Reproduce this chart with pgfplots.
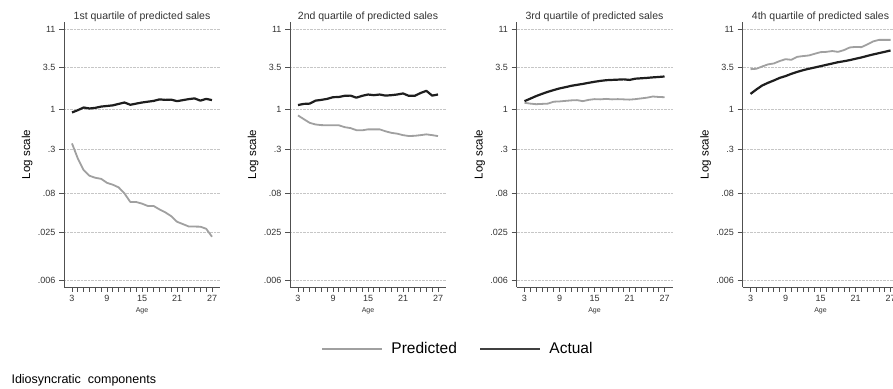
\documentclass[border=0pt]{standalone}
\usepackage{pgfplots}
\usepackage{pgfplotstable}
\pgfplotsset{compat=1.18}
\usepackage{fontspec}
\setmainfont{Liberation Sans}
\definecolor{predgray}{HTML}{A0A0A0}
\definecolor{actblack}{HTML}{1E1E1E}
\definecolor{axgray}{HTML}{505050}
\definecolor{txtgray}{HTML}{333333}

\pgfplotstableread{
x a p
3 0.905 0.358
4 0.97 0.228
5 1.05 0.161
6 1.02 0.136
7 1.04 0.128
8 1.08 0.124
9 1.10 0.110
10 1.12 0.104
11 1.17 0.096
12 1.22 0.080
13 1.14 0.062
14 1.18 0.062
15 1.22 0.059
16 1.25 0.055
17 1.28 0.055
18 1.34 0.0496
19 1.32 0.0454
20 1.33 0.0406
21 1.27 0.0343
22 1.31 0.032
23 1.35 0.0298
24 1.38 0.0297
25 1.29 0.0296
26 1.36 0.0278
27 1.31 0.0219
}\qone
\pgfplotstableread{
x a p
3 1.13 0.828
4 1.17 0.741
5 1.18 0.664
6 1.29 0.632
7 1.32 0.620
8 1.36 0.617
9 1.43 0.617
10 1.44 0.617
11 1.49 0.583
12 1.50 0.567
13 1.41 0.533
14 1.49 0.530
15 1.55 0.546
16 1.52 0.546
17 1.55 0.546
18 1.50 0.515
19 1.52 0.492
20 1.55 0.480
21 1.60 0.459
22 1.49 0.447
23 1.49 0.450
24 1.62 0.459
25 1.73 0.470
26 1.50 0.459
27 1.55 0.446
}\qtwo
\pgfplotstableread{
x a p
3 1.27 1.21
4 1.37 1.18
5 1.48 1.16
6 1.58 1.17
7 1.68 1.18
8 1.77 1.25
9 1.86 1.26
10 1.93 1.28
11 2.01 1.30
12 2.07 1.31
13 2.13 1.27
14 2.20 1.32
15 2.27 1.35
16 2.33 1.34
17 2.38 1.36
18 2.40 1.34
19 2.42 1.35
20 2.44 1.34
21 2.40 1.33
22 2.49 1.35
23 2.52 1.38
24 2.55 1.41
25 2.59 1.46
26 2.62 1.44
27 2.66 1.43
}\qthree
\pgfplotstableread{
x a p
3 1.58 3.31
4 1.80 3.35
5 2.03 3.59
6 2.20 3.82
7 2.36 3.93
8 2.55 4.22
9 2.69 4.47
10 2.88 4.38
11 3.05 4.79
12 3.21 4.90
13 3.35 4.99
14 3.48 5.25
15 3.62 5.51
16 3.77 5.56
17 3.92 5.70
18 4.08 5.56
19 4.20 5.85
20 4.34 6.34
21 4.52 6.45
22 4.70 6.40
23 4.92 6.93
24 5.14 7.59
25 5.35 7.96
26 5.56 7.96
27 5.80 7.96
}\qfour

\pgfplotsset{
  /pgfplots/mypanel/.style={
    scale only axis, width=156pt, height=265pt, anchor=south west,
    ymin=0.00486, ymax=13.6,
    xmin=1.63, xmax=28.37,
    axis lines*=left,
    axis line style={axgray, line width=0.8pt},
    tick style={axgray, line width=0.7pt},
    tick align=outside, major tick length=5pt, minor tick length=5pt,
    xtick={3,9,15,21,27}, minor xtick={3,...,27},
    ytick={0.006,0.025,0.08,0.3,1,3.5,11},
    yticklabels={.006,.025,.08,.3,1,3.5,11},
    ymajorgrids, grid style={densely dotted, gray!45, line width=0.5pt},
    /pgf/number format/assume math mode=true,
    tick label style={font=\fontsize{9}{10}\selectfont, text=txtgray},
    title style={font=\fontsize{10.5}{12}\selectfont, text=txtgray, at={(0.5,1)}, anchor=south, yshift=-9pt},
    ylabel style={at={(-0.237,0.5)}, rotate=0, anchor=center, font=\fontsize{11.5}{13}\selectfont, text=black},
    xlabel style={at={(0.5,0)}, anchor=center, yshift=-23.5pt, font=\fontsize{7}{8}\selectfont, text=txtgray},
    ylabel={Log scale}, xlabel={Age},
    clip=false,
  },
  /pgfplots/pline/.style={color=predgray, line width=1.8pt, line join=round},
  /pgfplots/aline/.style={color=actblack, line width=2.2pt, line join=round},
}

\begin{document}
\begin{tikzpicture}
\useasboundingbox (0,0) rectangle (893pt,-388pt);
\clip (0,0) rectangle (893pt,-388pt);

\begin{axis}[ymode=log, yminorticks=false, mypanel, at={(64pt,-287pt)}, title={1st quartile of predicted sales}]
\addplot[pline] table[x=x,y=p] {\qone};
\addplot[aline] table[x=x,y=a] {\qone};
\end{axis}

\begin{axis}[ymode=log, yminorticks=false, mypanel, at={(290pt,-287pt)}, title={2nd quartile of predicted sales}]
\addplot[pline] table[x=x,y=p] {\qtwo};
\addplot[aline] table[x=x,y=a] {\qtwo};
\end{axis}

\begin{axis}[ymode=log, yminorticks=false, mypanel, at={(516.5pt,-287pt)}, title={3rd quartile of predicted sales}]
\addplot[pline] table[x=x,y=p] {\qthree};
\addplot[aline] table[x=x,y=a] {\qthree};
\end{axis}

\begin{axis}[ymode=log, yminorticks=false, mypanel, at={(742.5pt,-287pt)}, title={4th quartile of predicted sales}]
\addplot[pline] table[x=x,y=p] {\qfour};
\addplot[aline] table[x=x,y=a] {\qfour};
\end{axis}

\begin{axis}[at={(458pt,-349pt)}, anchor=center, hide axis, scale only axis,
  width=10pt, height=10pt, xmin=0, xmax=1, ymin=0, ymax=1,
  legend columns=2,
  legend style={at={(0.5,0.5)}, anchor=center, draw=none, fill=none,
    font=\fontsize{15.5}{17}\selectfont,
    /tikz/every even column/.append style={column sep=20pt}},
  legend image code/.code={\draw[#1] (0pt,0pt) -- (60pt,0pt); \path (66pt,0pt);}]
\addlegendimage{color=predgray, line width=2pt}
\addlegendentry{Predicted}
\addlegendimage{color=actblack!85, line width=2.5pt}
\addlegendentry{Actual}
\end{axis}

\node[anchor=west, font=\fontsize{12.5}{14}\selectfont, text=black] at (8pt,-380pt) {Idiosyncratic\ \ components};
\end{tikzpicture}
\end{document}
